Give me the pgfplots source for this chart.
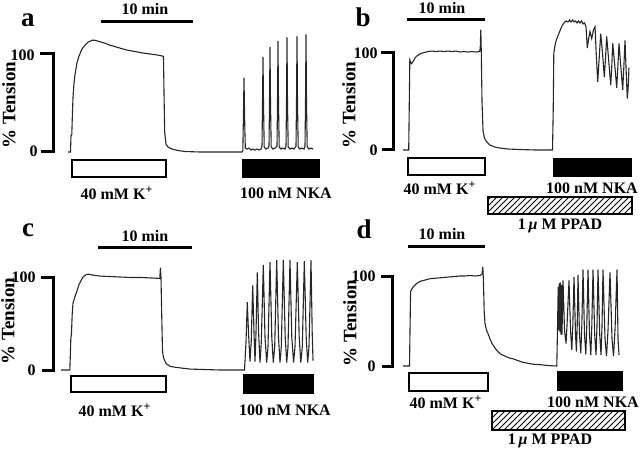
\documentclass[border=0pt]{standalone}
\usepackage{fontspec}
\setmainfont{Liberation Serif}
\usepackage{pgfplots}
\pgfplotsset{compat=1.18}
\usetikzlibrary{patterns}

\tikzset{
  trace/.style={black!85, line width=0.55pt, mark=none},
  lbl/.style={font=\bfseries\fontsize{8}{9.5}\selectfont, inner sep=0pt},
  ylbl/.style={font=\bfseries\fontsize{9.5}{11}\selectfont, inner sep=0pt, rotate=90},
  panel/.style={font=\bfseries\fontsize{13.5}{15}\selectfont, inner sep=0pt},
  bracket/.style={line width=1.5pt, miter limit=2},
  box/.style={line width=1.2pt},
}
\pgfplotsset{panelaxis/.style={hide axis, clip=false, anchor=south west, x=0.5pt, ymin=-80, ymax=150}}

\begin{document}
\begin{tikzpicture}
\useasboundingbox (0,0) rectangle (320pt,-224pt);

% panel a
\begin{axis}[panelaxis, y=0.49pt, xmin=0, xmax=320, at={(0pt,-115.2pt)}]
\addplot[trace] coordinates {
(68,0) (70.5,0) (71,17) (71.8,18) (72.3,35) (73,56) (74,70) (75,79) (77,91) (79,98)
(82,105) (85,109) (88,112) (92,114) (95,114) (100,112.5) (105,111) (110,109) (115,107.5)
(120,106) (127,104) (135,102.5) (143,101) (150,100) (157,99) (162,98) (163.5,97.5)
(164,60) (164.7,20) (166,8) (168,5) (172,3) (178,1.5) (185,0.5) (200,0) (242,0)
(242.8,1) (243.5,40) (244,76) (244.6,35) (245.3,4) (247,3) (249,4) (251,2) (253,3) (255,2)
(257,3) (259,2) (261,3) (262,6) (262.5,50) (263,97) (263.5,50) (264.2,5) (266,3) (268,4)
(269,6) (269.5,50) (270,107) (270.5,50) (271.2,5) (273,3) (275,4) (277,6) (277.5,50)
(278,113) (278.5,50) (279.2,5) (281,3) (283,4) (285,3) (286,6) (286.5,50) (287,117)
(287.5,50) (288.2,5) (290,3) (292,4) (294,3) (296,6) (296.5,50) (297,118) (297.5,50)
(298.2,5) (300,3) (302,4) (304,3) (305,6) (305.5,50) (306,120) (306.5,50) (307.2,5)
(309,3) (311,4) (313,3)
};
\end{axis}

% panel b
\begin{axis}[panelaxis, y=0.485pt, xmin=320, xmax=640, at={(160pt,-113.8pt)}]
\addplot[trace] coordinates {
(403,0) (408.7,0) (409.3,50) (409.8,93) (410.5,91) (411.5,89) (413,91) (415,95) (417,97)
(420,99) (424,100.5) (428,101.5) (432,102) (436,101.5) (440,102) (444,101.5) (448,102)
(452,101.5) (456,102) (460,101) (464,101.5) (468,101) (472,101.5) (476,101) (479.5,101.5)
(480.2,104) (480.8,124) (481.3,100) (482,50) (483,20) (484.5,12) (487,8) (490,5) (495,3)
(500,2) (508,1) (520,0.5) (535,0) (552.5,0)
(553.2,40) (553.8,100) (555,108) (556.5,114) (558,118) (560,123) (562,128) (564,131)
(566,133) (568,132) (569.5,134) (571,132) (572.5,134) (574,132) (575.5,133) (577,131)
(578.5,133) (580,131) (581.5,133) (583,130) (584.5,131) (586,127) (587.3,105) (588.5,114)
(590,122) (591.7,115) (593.5,124) (595,127) (596.2,100) (597.7,70) (599.2,95) (600.7,120)
(602.5,100) (604.3,75) (605.5,95) (606.7,117) (608.7,92) (610.7,67) (611.7,85) (612.7,110)
(614.7,88) (616.7,64) (617.8,85) (619,110) (620.8,86) (622.7,62) (623.8,85) (625,113)
(626.2,80) (627.3,53) (628.2,65) (629,85)
};
\end{axis}

% panel c
\begin{axis}[panelaxis, y=0.465pt, xmin=0, xmax=320, at={(0pt,-222.2pt)}]
\addplot[trace] coordinates {
(61,0) (69.8,0) (70.3,15) (70.8,33) (71.5,40) (72.2,60) (73,72) (75,79) (77,85) (79,92)
(81,96) (83,100) (86,102.5) (89,103) (93,102) (100,101) (110,100.5) (120,100) (130,99.5)
(140,99.5) (150,99) (159.8,98.5) (160.4,110) (161,99) (161.7,60) (162.5,20) (163.5,13)
(166,7) (170,4) (175,3) (182,2) (190,1) (205,0.5) (220,0) (244.5,0)
(246,30) (247.3,73) (248.5,40) (250,9) (251.2,30) (252.7,91) (254,40) (255,9) (256,40)
(257.3,105) (258.6,40) (260,8) (261.3,30) (263.3,113) (265,35) (266.7,8) (268,25)
(270,116) (271.8,35) (273.3,8) (274.7,25) (276.7,118) (278.5,35) (280,8) (281.3,25)
(283.3,118) (285.2,35) (286.7,8) (288,25) (290,118) (291.8,35) (293.6,8) (295,25)
(297.3,116) (299.2,35) (300.8,8) (302.3,25) (304.3,117) (306.2,35) (307.7,8) (309,25)
(311,118) (312.2,40) (313,10)
};
\end{axis}

% panel d
\begin{axis}[panelaxis, y=0.45pt, xmin=320, xmax=640, at={(160pt,-219pt)}]
\addplot[trace] coordinates {
(403,0) (409.5,0) (410,40) (410.6,83) (412,86) (414,89) (417,92) (420,94) (425,95.5)
(430,97) (435,97.5) (440,98) (445,98.5) (450,99) (455,99.5) (460,100) (465,100)
(470,100.5) (475,100) (480,100.5) (482,102) (482.8,110) (483.4,95) (484.2,60) (485,47)
(486.5,40) (488,36) (490,30) (492,25) (495,20) (497,17) (501,13) (505,11) (509,9)
(513,8) (518,6) (523,4) (528,3) (533,2) (540,1.5) (548,0.5) (556.8,0)
(557.6,49) (558.2,88) (558.7,40) (559.3,92) (559.8,38) (560.4,93) (560.9,35) (561.5,90)
(562,35) (563,95) (564.5,40) (566,25) (567,45) (569,95) (570.5,40) (571.8,18) (572.8,45)
(574,99) (575.5,35) (576.4,16) (577.2,45) (578,101) (579.5,35) (580.8,14) (581.8,45)
(583,107) (584.5,35) (585.8,13) (586.8,45) (588,107) (589.5,35) (590.8,12) (591.8,45)
(593,107) (594.7,35) (596,12) (597,45) (598,107) (599.7,35) (601,12) (602,45) (603,107)
(605,30) (606.5,11) (608,40) (610,104) (612,30) (613.5,11) (615,40) (617,107) (618,30)
(619,12)
};
\end{axis}

% annotations, in pixel units of the 640x448 figure
\begin{scope}[x=0.5pt, y=-0.5pt]
% a
\node[panel] at (28,20) {a};
\node[lbl] at (145,9) {10 min};
\draw[line width=1.5pt] (101,22) -- (193,22);
\draw[bracket] (40,54) -- (53,54) -- (53,152) -- (41,152);
\node[lbl, anchor=east] at (35,55) {100};
\node[lbl, anchor=east] at (38,151) {0};
\node[ylbl] at (9,105) {\% Tension};
\draw[box] (72,160) rectangle (166,177);
\fill (242,159) rectangle (320,178);
\node[lbl] at (117,193) {40 mM K\textsuperscript{+}};
\node[lbl] at (286,193) {100 nM NKA};
% b
\node[panel] at (363,17) {b};
\node[lbl] at (442,8) {10 min};
\draw[line width=1.5pt] (407,20) -- (485,20);
\draw[bracket] (381,53) -- (393,53) -- (393,150) -- (382,150);
\node[lbl, anchor=east] at (378,53) {100};
\node[lbl, anchor=east] at (378,150) {0};
\node[ylbl] at (349,105) {\% Tension};
\draw[box] (408,158) rectangle (485,175);
\fill (553,158) rectangle (632,177);
\node[lbl] at (440,188) {40 mM K\textsuperscript{+}};
\node[lbl] at (592,188) {100 nM NKA};
\draw[box, pattern=north east lines] (488,197) rectangle (632,214);
\node[lbl] at (560,226) {1\,\textit{μ} M PPAD};
% c
\node[panel] at (28,230) {c};
\node[lbl] at (145,236) {10 min};
\draw[line width=1.5pt] (98,247) -- (192,247);
\draw[bracket] (41,277) -- (53,277) -- (53,370) -- (42,370);
\node[lbl, anchor=east] at (36,277) {100};
\node[lbl, anchor=east] at (36,370) {0};
\node[ylbl] at (8,321) {\% Tension};
\draw[box] (71,376) rectangle (166,392);
\fill (243,374) rectangle (314,394);
\node[lbl] at (115,410) {40 mM K\textsuperscript{+}};
\node[lbl] at (285,410) {100 nM NKA};
% d
\node[panel] at (364,229) {d};
\node[lbl] at (442,234) {10 min};
\draw[line width=1.5pt] (408,246) -- (485,246);
\draw[bracket] (381,276) -- (392,276) -- (392,366) -- (382,366);
\node[lbl, anchor=east] at (376,276) {100};
\node[lbl, anchor=east] at (376,366) {0};
\node[ylbl] at (350,323) {\% Tension};
\draw[box] (409,373) rectangle (488,391);
\fill (557,371) rectangle (623,391);
\node[lbl] at (446,402) {40 mM K\textsuperscript{+}};
\node[lbl] at (593,402) {100 nM NKA};
\draw[box, pattern=north east lines] (492,411) rectangle (625,430);
\node[lbl] at (550,441) {1\,\textit{μ} M PPAD};
\end{scope}
\end{tikzpicture}
\end{document}
